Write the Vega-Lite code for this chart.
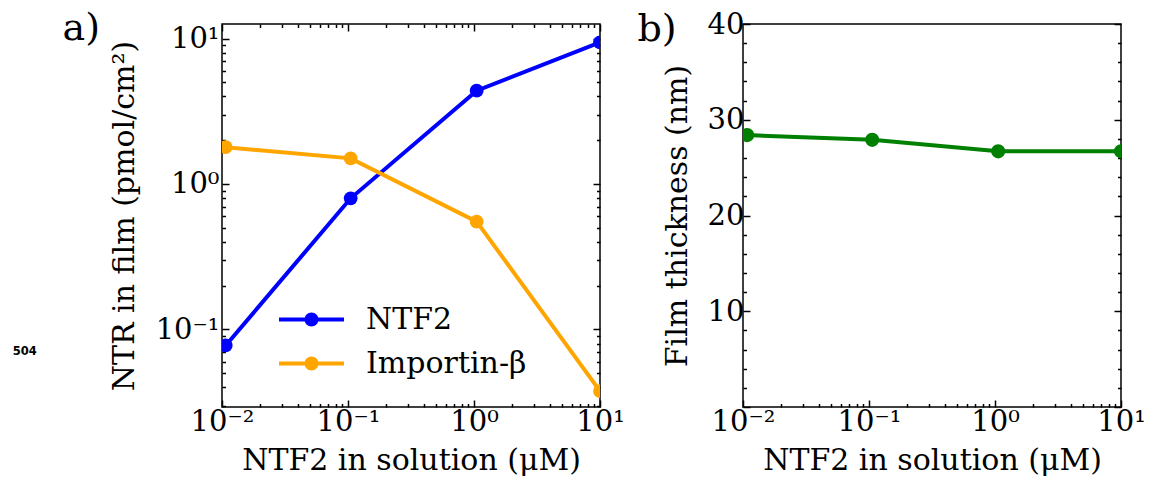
{
  "$schema": "https://vega.github.io/schema/vega-lite/v6.json",
  "padding": {"left": 12, "top": 8, "right": 5, "bottom": 5},
  "background": "white",
  "config": {
    "font": "DejaVu Serif",
    "view": {"stroke": "black", "strokeWidth": 1.5},
    "axis": {
      "domain": false, "grid": false,
      "labelFont": "DejaVu Serif", "labelFontSize": 29, "labelColor": "black",
      "titleFont": "DejaVu Serif", "titleFontSize": 30, "titleFontWeight": "normal", "titleColor": "black",
      "tickColor": "black", "tickWidth": 1.5,
      "labelFlush": false, "labelOverlap": false
    }
  },
  "resolve": {"scale": {"x": "independent", "y": "independent"}},
  "spacing": 10,
  "hconcat": [
    {
      "width": 378, "height": 383,
      "layer": [
        {
          "data": {"values": [
            {"x": 0.0107, "v": 0.0776, "s": "NTF2"},
            {"x": 0.105, "v": 0.797, "s": "NTF2"},
            {"x": 1.05, "v": 4.38, "s": "NTF2"},
            {"x": 10, "v": 9.42, "s": "NTF2"},
            {"x": 0.0107, "v": 1.79, "s": "Importin-β"},
            {"x": 0.105, "v": 1.50, "s": "Importin-β"},
            {"x": 1.05, "v": 0.551, "s": "Importin-β"},
            {"x": 10, "v": 0.0377, "s": "Importin-β"}
          ]},
          "layer": [
            {
              "mark": {"type": "line", "strokeWidth": 4, "clip": true},
              "encoding": {
                "x": {"field": "x", "type": "quantitative",
                  "scale": {"type": "log", "domain": [0.01, 10], "nice": false},
                  "axis": {"orient": "bottom", "title": "NTF2 in solution (μM)",
                    "values": [0.01,0.02,0.03,0.04,0.05,0.06,0.07,0.08,0.09,0.1,0.2,0.3,0.4,0.5,0.6,0.7,0.8,0.9,1,2,3,4,5,6,7,8,9,10],
                    "tickSize": {"condition": {"test": "abs(log(datum.value)/LN10 - round(log(datum.value)/LN10)) < 0.001", "value": -7}, "value": -3.5},
                    "labelExpr": "abs(log(datum.value)/LN10 - round(log(datum.value)/LN10)) > 0.001 ? '' : datum.value < 0.05 ? '10⁻²' : datum.value < 0.5 ? '10⁻¹' : datum.value < 5 ? '10⁰' : '10¹'",
                    "labelPadding": 7, "titlePadding": 6}},
                "y": {"field": "v", "type": "quantitative",
                  "scale": {"type": "log", "domain": [0.0293, 12.58], "nice": false},
                  "axis": {"orient": "left", "title": "NTR in film (pmol/cm²)",
                    "values": [0.03,0.04,0.05,0.06,0.07,0.08,0.09,0.1,0.2,0.3,0.4,0.5,0.6,0.7,0.8,0.9,1,2,3,4,5,6,7,8,9,10],
                    "tickSize": {"condition": {"test": "abs(log(datum.value)/LN10 - round(log(datum.value)/LN10)) < 0.001", "value": -7}, "value": -3.5},
                    "labelExpr": "abs(log(datum.value)/LN10 - round(log(datum.value)/LN10)) > 0.001 ? '' : datum.value < 0.5 ? '10⁻¹' : datum.value < 5 ? '10⁰' : '10¹'",
                    "labelPadding": 10, "titlePadding": 16}},
                "color": {"field": "s", "type": "nominal",
                  "scale": {"domain": ["NTF2", "Importin-β"], "range": ["#0000ff", "#ffa500"]},
                  "legend": {"orient": "none", "legendX": 73, "legendY": 279, "title": null,
                    "symbolType": "M-2,-0.12L2,-0.12L2,0.12L-2,0.12Z M0.43,0A0.43,0.43,0,1,1,-0.43,0A0.43,0.43,0,1,1,0.43,0Z",
                    "symbolSize": 1056, "symbolStrokeWidth": 0, "symbolOpacity": 1,
                    "labelFont": "DejaVu Serif", "labelFontSize": 30, "labelColor": "black", "labelLimit": 400,
                    "labelOffset": 38, "rowPadding": 12,
                    "encode": {"symbols": {"update": {"fill": {"scale": "color", "field": "value"}, "strokeWidth": {"value": 0}, "opacity": {"value": 1}}}}}}
              }
            },
            {
              "mark": {"type": "point", "filled": true, "size": 190, "opacity": 1, "clip": true},
              "encoding": {
                "x": {"field": "x", "type": "quantitative",
                  "axis": {"orient": "top", "labels": false,
                    "values": [0.01,0.02,0.03,0.04,0.05,0.06,0.07,0.08,0.09,0.1,0.2,0.3,0.4,0.5,0.6,0.7,0.8,0.9,1,2,3,4,5,6,7,8,9,10],
                    "tickSize": {"condition": {"test": "abs(log(datum.value)/LN10 - round(log(datum.value)/LN10)) < 0.001", "value": -7}, "value": -3.5},
                    "title": "a)", "titleX": -160, "titleY": 15, "titleAlign": "left", "titleBaseline": "alphabetic", "titleAngle": 0, "titleFontSize": 38}},
                "y": {"field": "v", "type": "quantitative",
                  "axis": {"orient": "right", "title": null, "labels": false,
                    "values": [0.03,0.04,0.05,0.06,0.07,0.08,0.09,0.1,0.2,0.3,0.4,0.5,0.6,0.7,0.8,0.9,1,2,3,4,5,6,7,8,9,10],
                    "tickSize": {"condition": {"test": "abs(log(datum.value)/LN10 - round(log(datum.value)/LN10)) < 0.001", "value": -7}, "value": -3.5}}},
                "color": {"field": "s", "type": "nominal",
                  "legend": {"orient": "none", "legendX": 73, "legendY": 279, "title": null,
                    "symbolType": "M-2,-0.12L2,-0.12L2,0.12L-2,0.12Z M0.43,0A0.43,0.43,0,1,1,-0.43,0A0.43,0.43,0,1,1,0.43,0Z",
                    "symbolSize": 1056, "symbolStrokeWidth": 0, "symbolOpacity": 1,
                    "labelFont": "DejaVu Serif", "labelFontSize": 30, "labelColor": "black", "labelLimit": 400,
                    "labelOffset": 38, "rowPadding": 12,
                    "encode": {"symbols": {"update": {"fill": {"scale": "color", "field": "value"}, "strokeWidth": {"value": 0}, "opacity": {"value": 1}}}}}}
              }
            }
          ]
        },
        {
          "data": {"values": [{"x": 0.000272, "v": 0.0698, "label": "504"}]},
          "mark": {"type": "text", "font": "DejaVu Sans", "fontWeight": "bold", "fontSize": 11.5, "color": "black", "clip": false},
          "encoding": {
            "x": {"field": "x", "type": "quantitative", "axis": null},
            "y": {"field": "v", "type": "quantitative", "axis": null},
            "text": {"field": "label"}
          }
        }
      ],
      "resolve": {"axis": {"x": "independent", "y": "independent"}}
    },
    {
      "width": 378, "height": 383,
      "data": {"values": [
        {"x": 0.0108, "t": 28.4},
        {"x": 0.106, "t": 27.9},
        {"x": 1.06, "t": 26.7},
        {"x": 10, "t": 26.7}
      ]},
      "layer": [
        {
          "mark": {"type": "line", "strokeWidth": 4, "color": "#008000", "clip": true},
          "encoding": {
            "x": {"field": "x", "type": "quantitative",
              "scale": {"type": "log", "domain": [0.01, 10], "nice": false},
              "axis": {"orient": "bottom", "title": "NTF2 in solution (μM)",
                "values": [0.01,0.02,0.03,0.04,0.05,0.06,0.07,0.08,0.09,0.1,0.2,0.3,0.4,0.5,0.6,0.7,0.8,0.9,1,2,3,4,5,6,7,8,9,10],
                "tickSize": {"condition": {"test": "abs(log(datum.value)/LN10 - round(log(datum.value)/LN10)) < 0.001", "value": -7}, "value": -3.5},
                "labelExpr": "abs(log(datum.value)/LN10 - round(log(datum.value)/LN10)) > 0.001 ? '' : datum.value < 0.05 ? '10⁻²' : datum.value < 0.5 ? '10⁻¹' : datum.value < 5 ? '10⁰' : '10¹'",
                "labelPadding": 7, "titlePadding": 6}},
            "y": {"field": "t", "type": "quantitative",
              "scale": {"domain": [0, 40], "nice": false, "zero": false},
              "axis": {"orient": "left", "title": "Film thickness (nm)",
                "values": [0,2,4,6,8,10,12,14,16,18,20,22,24,26,28,30,32,34,36,38,40],
                "tickSize": {"condition": {"test": "datum.value % 10 == 0", "value": -7}, "value": -3.5},
                "labelExpr": "datum.value % 10 == 0 && datum.value > 0 ? datum.label : ''",
                "labelPadding": 6, "titlePadding": 15}}
          }
        },
        {
          "mark": {"type": "point", "filled": true, "size": 200, "opacity": 1, "color": "#008000", "clip": true},
          "encoding": {
            "x": {"field": "x", "type": "quantitative",
              "axis": {"orient": "top", "labels": false, "ticks": false, "values": [],
                "title": "b)", "titleX": -106, "titleY": 16, "titleAlign": "left", "titleBaseline": "alphabetic", "titleAngle": 0, "titleFontSize": 38}},
            "y": {"field": "t", "type": "quantitative",
              "axis": {"orient": "right", "title": null, "labels": false,
                "values": [0,2,4,6,8,10,12,14,16,18,20,22,24,26,28,30,32,34,36,38,40],
                "tickSize": {"condition": {"test": "datum.value % 10 == 0", "value": -7}, "value": -3.5}}}
          }
        }
      ],
      "resolve": {"axis": {"x": "independent", "y": "independent"}}
    }
  ]
}
